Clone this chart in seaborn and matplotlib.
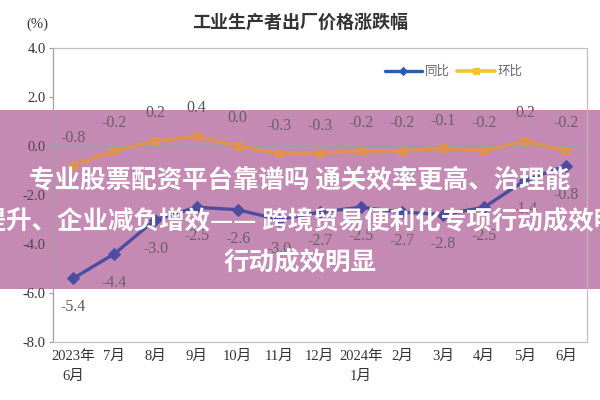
import numpy as np
import pandas as pd
import matplotlib
matplotlib.use("Agg")
import matplotlib.pyplot as plt
import seaborn as sns
from matplotlib.patches import Rectangle

# ── data ──────────────────────────────────────────────────────
months = ["2023年\n6月", "7月", "8月", "9月", "10月", "11月", "12月",
          "2024年\n1月", "2月", "3月", "4月", "5月", "6月"]
yoy = [-5.4, -4.4, -3.0, -2.5, -2.6, -3.0, -2.7, -2.5, -2.7, -2.8, -2.5, -1.4, -0.8]
mom = [-0.8, -0.2, 0.2, 0.4, 0.0, -0.3, -0.3, -0.2, -0.2, -0.1, -0.2, 0.2, -0.2]
yticks = [4.0, 2.0, 0.0, -2.0, -4.0, -6.0, -8.0]

title = "工业生产者出厂价格涨跌幅"
banner = ["专业股票配资平台靠谱吗 通关效率更高、治理能",
          "力提升、企业减负增效—— 跨境贸易便利化专项行动成效明显",
          "行动成效明显"]

df = pd.DataFrame({"idx": np.arange(len(months)), "同比": yoy, "环比": mom})

# ── style ─────────────────────────────────────────────────────
sns.set_style("white")
plt.rcParams["font.family"] = ["Liberation Serif", "Noto Sans CJK SC", "DejaVu Sans"]
plt.rcParams["axes.unicode_minus"] = False

blue = "#2f3f9c"
orange = "#e6963a"
pink = "#c48ab4"
cjk = ["Noto Sans CJK SC", "DejaVu Sans"]

fig = plt.figure(figsize=(6, 4), dpi=100)
ax = fig.add_axes([0.088, 0.145, 0.89, 0.735])
ax.set_facecolor("none")

# pink banner: opaque behind the axes, light veil in front
fig.patches.append(Rectangle((0, 0.2775), 1, 0.4475, transform=fig.transFigure,
                             facecolor=pink, edgecolor="none", zorder=-5))
fig.patches.append(Rectangle((0, 0.2775), 1, 0.4475, transform=fig.transFigure,
                             facecolor=pink, edgecolor="none", alpha=0.2, zorder=10))

sns.lineplot(data=df, x="idx", y="同比", ax=ax, color=blue, lw=2.4,
             marker="D", markersize=6, markeredgecolor=blue, label="同比")
sns.lineplot(data=df, x="idx", y="环比", ax=ax, color=orange, lw=2.6,
             marker="s", markersize=6, markeredgecolor=orange, label="环比")

# zero line with category ticks
ax.axhline(0, color="#a0a0a0", lw=0.9, zorder=1)
ax.vlines(np.arange(len(months) - 1) + 0.5, 0, 0.22, color="#a0a0a0", lw=0.9)

for i, v in enumerate(yoy):
    ax.annotate(f"{v:.1f}", (i, v), xytext=(0, -21), textcoords="offset points",
                ha="center", va="center", fontsize=11.5, color="#555555")
for i, v in enumerate(mom):
    ax.annotate(f"{v:.1f}", (i, v), xytext=(0, 20), textcoords="offset points",
                ha="center", va="center", fontsize=11.5, color="#555555")

ax.set_xlim(-0.5, len(months) - 0.5)
ax.set_ylim(-8, 4)
ax.set_yticks(yticks)
ax.set_yticklabels([f"{t:.1f}" for t in yticks], fontsize=10.5, color="#333333")
ax.set_xticks(df["idx"])
ax.set_xticklabels(months, fontsize=10.5, color="#333333", linespacing=1.6)
ax.set_xlabel("")
ax.set_ylabel("")
ax.tick_params(axis="y", length=3, color="#a0a0a0", pad=2, left=True)
ax.tick_params(axis="x", length=0, pad=6)
for s in ax.spines.values():
    s.set_color("#c0c0c0")
    s.set_linewidth(0.9)
ax.spines["left"].set_color("#a0a0a0")

leg = ax.legend(loc="upper right", bbox_to_anchor=(0.9, 0.98), ncol=2, frameon=False,
                handlelength=3, columnspacing=0.6, handletextpad=0.2,
                prop={"family": cjk, "size": 9})
leg.get_lines()[0].set_color("#2a5db0")
leg.get_lines()[0].set_markeredgecolor("#2a5db0")
leg.get_lines()[0].set_markersize(4)
leg.get_lines()[1].set_color("#f2c62a")
leg.get_lines()[1].set_markeredgecolor("#f2c62a")
leg.get_lines()[1].set_markersize(5)
for t in leg.get_texts():
    t.set_color("#666666")

fig.text(0.5, 0.945, title, ha="center", va="center", fontsize=13,
         family=cjk, color="#333333", weight="bold")
fig.text(0.062, 0.94, "(%)", ha="center", va="center", fontsize=10.5, color="#333333")

ys = [1 - 180 / 400, 1 - 221 / 400, 1 - 262 / 400]
for txt, yy in zip(banner, ys):
    fig.text(0.5, yy, txt, ha="center", va="center", fontsize=18.4, weight="bold",
             color="white", family=cjk, zorder=20)

fig.savefig("out.png", dpi=100)
